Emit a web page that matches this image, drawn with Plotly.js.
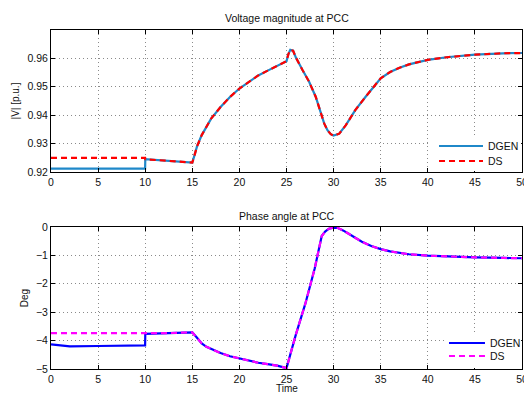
<!DOCTYPE html>
<html>
<head>
<meta charset="utf-8">
<script src="https://cdn.plot.ly/plotly-3.0.1.min.js"></script>
<style>html,body{margin:0;padding:0;background:#fff;}#chart{width:524px;height:393px;}</style>
</head>
<body>
<div id="chart"></div>
<script>
// ---- Voltage magnitude at PCC ----
const vTimeDGEN = [0, 9.99, 10.01, 12, 15, 15.2, 15.5, 16, 17, 18, 19, 20, 21, 22, 23, 24, 25, 25.2, 25.4, 25.7, 26, 26.7, 27.4, 28.1, 28.6, 29, 29.35, 29.7, 30, 30.6, 31.3, 32.3, 33.4, 34.5, 35, 36, 37, 38, 40, 42, 45, 48, 50];
const vDGEN     = [0.9212, 0.9212, 0.9245, 0.9240, 0.9233, 0.9255, 0.9290, 0.9330, 0.9388, 0.9429, 0.9464, 0.9494, 0.9518, 0.9540, 0.9557, 0.9573, 0.9590, 0.9615, 0.9630, 0.9627, 0.9603, 0.9559, 0.9518, 0.9465, 0.9414, 0.9371, 0.9347, 0.9333, 0.9328, 0.9335, 0.9365, 0.9418, 0.9465, 0.9512, 0.9530, 0.9552, 0.9567, 0.9579, 0.9595, 0.9604, 0.9613, 0.9618, 0.9619];
const vTimeDS   = [0, 9.99, 10.01, 12, 15, 15.2, 15.5, 16, 17, 18, 19, 20, 21, 22, 23, 24, 25, 25.2, 25.4, 25.7, 26, 26.7, 27.4, 28.1, 28.6, 29, 29.35, 29.7, 30, 30.6, 31.3, 32.3, 33.4, 34.5, 35, 36, 37, 38, 40, 42, 45, 48, 50];
const vDS       = [0.9250, 0.9250, 0.9245, 0.9240, 0.9233, 0.9255, 0.9290, 0.9330, 0.9388, 0.9429, 0.9464, 0.9494, 0.9518, 0.9540, 0.9557, 0.9573, 0.9590, 0.9615, 0.9630, 0.9627, 0.9603, 0.9559, 0.9518, 0.9465, 0.9414, 0.9371, 0.9347, 0.9333, 0.9328, 0.9335, 0.9365, 0.9418, 0.9465, 0.9512, 0.9530, 0.9552, 0.9567, 0.9579, 0.9595, 0.9604, 0.9613, 0.9618, 0.9619];

// ---- Phase angle at PCC ----
const aTimeDGEN = [0, 1, 2, 5, 9.99, 10.01, 12, 15, 15.5, 16, 16.5, 17, 18, 19, 20, 21, 22, 23, 24, 25, 26, 27, 28, 28.74, 29.1, 29.5, 30, 30.4, 31, 31.6, 32.3, 33, 34, 35, 36, 37, 38, 40, 42, 45, 48, 50];
const aDGEN     = [-4.13, -4.17, -4.20, -4.19, -4.17, -3.76, -3.74, -3.71, -3.90, -4.10, -4.22, -4.30, -4.44, -4.55, -4.63, -4.71, -4.78, -4.83, -4.88, -4.97, -3.78, -2.70, -1.45, -0.32, -0.16, -0.06, -0.02, -0.03, -0.12, -0.24, -0.38, -0.52, -0.67, -0.78, -0.86, -0.92, -0.96, -1.01, -1.04, -1.07, -1.09, -1.10];
const aTimeDS   = [0, 1, 2, 5, 9.99, 10.01, 12, 15, 15.5, 16, 16.5, 17, 18, 19, 20, 21, 22, 23, 24, 25, 26, 27, 28, 28.74, 29.1, 29.5, 30, 30.4, 31, 31.6, 32.3, 33, 34, 35, 36, 37, 38, 40, 42, 45, 48, 50];
const aDS       = [-3.74, -3.74, -3.74, -3.74, -3.74, -3.76, -3.74, -3.71, -3.90, -4.10, -4.22, -4.30, -4.44, -4.55, -4.63, -4.71, -4.78, -4.83, -4.88, -4.97, -3.78, -2.70, -1.45, -0.32, -0.16, -0.06, -0.02, -0.03, -0.12, -0.24, -0.38, -0.52, -0.67, -0.78, -0.86, -0.92, -0.96, -1.01, -1.04, -1.07, -1.09, -1.10];

const xTicks = [0, 5, 10, 15, 20, 25, 30, 35, 40, 45, 50];
const vTicks = [0.92, 0.93, 0.94, 0.95, 0.96];
const aTicks = [-5, -4, -3, -2, -1, 0];
const seriesNames = ['DGEN', 'DS'];

const FONT = "'Liberation Sans', Arial, Helvetica, sans-serif";
const TXT = '#111';
const FS = 10.5;

const colTop = ['#1f88c9', '#ff0000'];
const colBot = ['#0000ff', '#ff00ff'];
const DASH = '6px,4px';

const traces = [
  {x: vTimeDGEN, y: vDGEN, name: seriesNames[0], type: 'scatter', mode: 'lines', xaxis: 'x', yaxis: 'y',
   line: {color: colTop[0], width: 2.2}},
  {x: vTimeDS, y: vDS, name: seriesNames[1], type: 'scatter', mode: 'lines', xaxis: 'x', yaxis: 'y',
   line: {color: colTop[1], width: 2.2, dash: DASH}},
  {x: aTimeDGEN, y: aDGEN, name: seriesNames[0], type: 'scatter', mode: 'lines', xaxis: 'x2', yaxis: 'y2',
   line: {color: colBot[0], width: 2.2}},
  {x: aTimeDS, y: aDS, name: seriesNames[1], type: 'scatter', mode: 'lines', xaxis: 'x2', yaxis: 'y2',
   line: {color: colBot[1], width: 2.2, dash: DASH}}
];

const axisCommon = {
  showline: true, linecolor: '#000', linewidth: 1, mirror: 'ticks',
  ticks: 'inside', ticklen: 4, tickcolor: '#000', tickwidth: 1,
  showgrid: true, gridcolor: '#8a8a8a', gridwidth: 1, griddash: '1px,3px',
  zeroline: false, ticklabeloverflow: 'allow', tickfont: {family: FONT, size: FS, color: TXT}
};

// legend drawn in plot (paper) coordinates, MATLAB style
function legendBox(bx0, by0, by1, lx0, lx1, ys, tx, cols) {
  const shapes = [{type: 'rect', xref: 'paper', yref: 'paper', x0: bx0, x1: 0.998, y0: by0, y1: by1,
    fillcolor: '#fff', line: {width: 0}, layer: 'above'}];
  const ann = [];
  seriesNames.forEach((n, i) => {
    shapes.push({type: 'line', xref: 'paper', yref: 'paper', x0: lx0, x1: lx1, y0: ys[i], y1: ys[i],
      line: {color: cols[i], width: 2.2, dash: i === 1 ? DASH : 'solid'}, layer: 'above'});
    ann.push({text: n, xref: 'paper', yref: 'paper', x: tx, y: ys[i], xanchor: 'left', yanchor: 'middle',
      showarrow: false, font: {family: FONT, size: FS, color: TXT}});
  });
  return {shapes, ann};
}
const lgTop = legendBox(0.8047, 0.5841, 0.6814, 0.8238, 0.9172, [0.6578, 0.6136], 0.924, colTop);
const lgBot = legendBox(0.8344, 0.003, 0.1003, 0.845, 0.9214, [0.0767, 0.0383], 0.928, colBot);

const layout = {
  width: 524, height: 393,
  margin: {l: 51, r: 2, t: 30, b: 24},
  paper_bgcolor: '#fff', plot_bgcolor: '#fff',
  font: {family: FONT, size: FS, color: TXT},
  showlegend: false,
  xaxis: Object.assign({}, axisCommon, {domain: [0, 1], anchor: 'y', range: [0, 50], tickvals: xTicks, ticktext: xTicks.map(String)}),
  yaxis: Object.assign({}, axisCommon, {domain: [0.5811, 1], anchor: 'x', range: [0.92, 0.97], tickvals: vTicks, ticktext: vTicks.map(v => v.toFixed(2)),
    title: {text: '|V| [p.u.]', font: {family: FONT, size: 10, color: TXT}, standoff: 5}}),
  xaxis2: Object.assign({}, axisCommon, {domain: [0, 1], anchor: 'y2', range: [0, 50], tickvals: xTicks, ticktext: xTicks.map(String)}),
  yaxis2: Object.assign({}, axisCommon, {domain: [0, 0.4189], anchor: 'x2', range: [-5, 0], tickvals: aTicks,
    title: {text: 'Deg', font: {family: FONT, size: 10, color: TXT}, standoff: 5}}),
  shapes: lgTop.shapes.concat(lgBot.shapes),
  annotations: [
    {text: 'Voltage magnitude at PCC', xref: 'paper', yref: 'paper', x: 0.5, y: 1, yshift: 12, showarrow: false,
     xanchor: 'center', yanchor: 'middle', font: {family: FONT, size: FS, color: TXT}},
    {text: 'Phase angle at PCC', xref: 'paper', yref: 'paper', x: 0.5, y: 0.4189, yshift: 11, showarrow: false,
     xanchor: 'center', yanchor: 'middle', font: {family: FONT, size: FS, color: TXT}},
    {text: 'Time', xref: 'paper', yref: 'paper', x: 0.5, y: 0, yshift: -19.5, showarrow: false,
     xanchor: 'center', yanchor: 'middle', font: {family: FONT, size: 10, color: TXT}}
  ].concat(lgTop.ann, lgBot.ann)
};

Plotly.newPlot('chart', traces, layout, {displayModeBar: false, staticPlot: true});
</script>
</body>
</html>
